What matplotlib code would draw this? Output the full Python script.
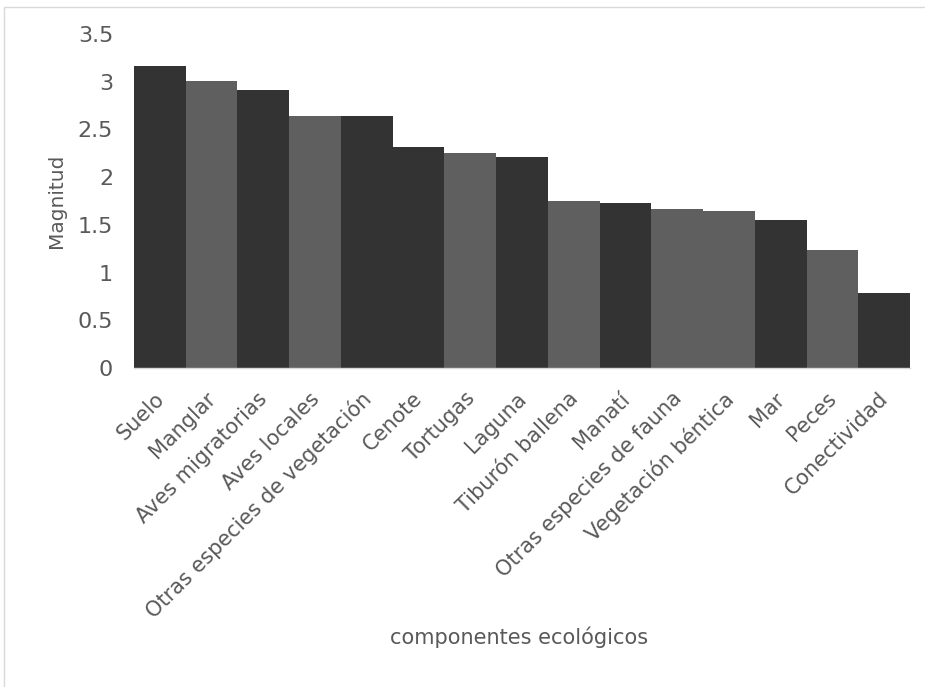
import matplotlib
matplotlib.use("Agg")
import matplotlib.pyplot as plt
from matplotlib.patches import Rectangle
from matplotlib.transforms import ScaledTranslation

componentes = ["Suelo", "Manglar", "Aves migratorias", "Aves locales",
               "Otras especies de vegetación", "Cenote", "Tortugas", "Laguna",
               "Tiburón ballena", "Manatí", "Otras especies de fauna",
               "Vegetación béntica", "Mar", "Peces", "Conectividad"]
magnitud = [3.16, 3.01, 2.91, 2.64, 2.64, 2.32, 2.25, 2.21,
            1.75, 1.73, 1.67, 1.65, 1.55, 1.24, 0.79]
tono = ["oscuro", "claro", "oscuro", "claro", "oscuro", "oscuro", "claro", "oscuro",
        "claro", "oscuro", "claro", "claro", "oscuro", "claro", "oscuro"]
yticks = [0, 0.5, 1, 1.5, 2, 2.5, 3, 3.5]

colores = {"oscuro": "#333333", "claro": "#5f5f5f"}
texto = "#595959"

plt.rcParams["font.family"] = ["DejaVu Sans"]

W, H = 925, 687
fig = plt.figure(figsize=(W / 100, H / 100), dpi=100)
ax = fig.add_axes([134 / W, 1 - 368 / H, (910 - 134) / W, (368 - 34) / H])

x = list(range(len(componentes)))
ax.bar(x, magnitud, width=1.0, color=[colores[t] for t in tono], linewidth=0)

ax.set_xlim(-0.5, len(componentes) - 0.5)
ax.set_ylim(0, 3.5)
ax.set_yticks(yticks)
ax.set_yticklabels([f"{v:g}" for v in yticks])
ax.set_xticks(x)
ax.set_xticklabels(componentes, rotation=45, ha="right", rotation_mode="anchor")

ax.tick_params(axis="both", length=0, colors=texto)
ax.tick_params(axis="y", pad=15, labelsize=16)
ax.tick_params(axis="x", pad=9, labelsize=15)

# nudge the slanted category labels slightly down and to the left
desplazamiento = ScaledTranslation(-0.06, -0.08, fig.dpi_scale_trans)
for etiqueta in ax.get_xticklabels():
    etiqueta.set_transform(etiqueta.get_transform() + desplazamiento)

for s in ("top", "right", "left"):
    ax.spines[s].set_visible(False)
ax.spines["bottom"].set_color("#d9d9d9")
ax.spines["bottom"].set_linewidth(1.0)

ax.set_ylabel("Magnitud", color=texto, fontsize=14.5)
ax.yaxis.set_label_coords((66 - 134) / 776, 0.5)
fig.text(519 / W, 1 - 637 / H, "componentes ecológicos", color=texto,
         fontsize=15, ha="center", va="center")

# light frame around the chart area
fig.patches.append(Rectangle((4 / W, -0.01), 1.02, 1 - 7 / H + 0.01,
                             transform=fig.transFigure, fill=False,
                             edgecolor="#d9d9d9", linewidth=1.0))

fig.savefig("out.png", dpi=100, facecolor="white")
